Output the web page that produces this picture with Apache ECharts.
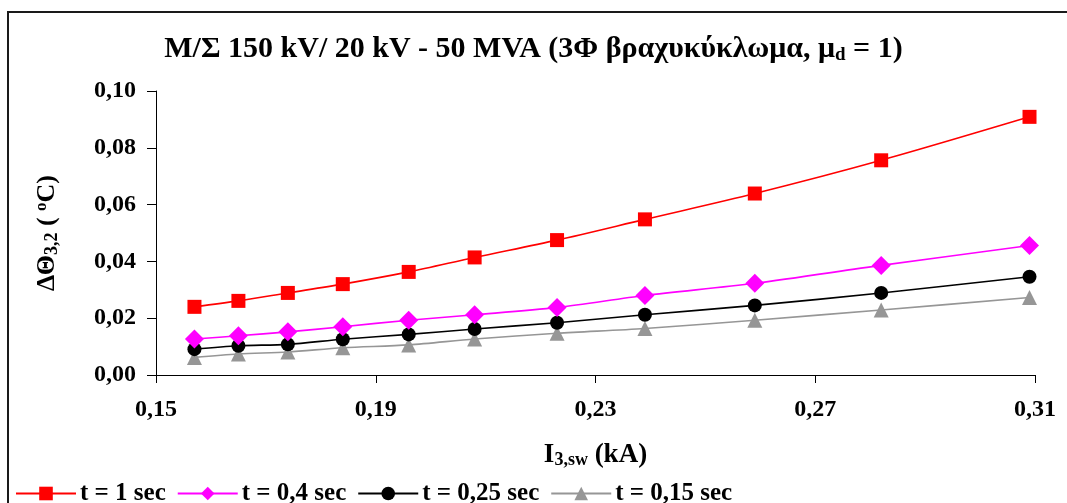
<!DOCTYPE html>
<html>
<head>
<meta charset="utf-8">
<script src="https://cdn.jsdelivr.net/npm/echarts@6/dist/echarts.min.js"></script>
<style>
  html, body { margin: 0; padding: 0; background: #fff; }
  #chart { width: 1067px; height: 503px; }
</style>
</head>
<body>
<div id="chart"></div>
<script>
// Short-circuit current on the 150 kV side (kA)
const currents = [0.157, 0.165, 0.174, 0.184, 0.196, 0.208, 0.223, 0.239, 0.259, 0.282, 0.309];

// Temperature rise ΔΘ3,2 (°C) for each fault duration
const rise1s   = [0.0240, 0.0261, 0.0289, 0.0320, 0.0363, 0.0414, 0.0475, 0.0548, 0.0639, 0.0756, 0.0909];
const rise04s  = [0.0127, 0.0138, 0.0152, 0.0170, 0.0193, 0.0212, 0.0238, 0.0280, 0.0323, 0.0386, 0.0456];
const rise025s = [0.0091, 0.0103, 0.0108, 0.0126, 0.0143, 0.0162, 0.0184, 0.0212, 0.0245, 0.0289, 0.0346];
const rise015s = [0.0062, 0.0074, 0.0081, 0.0096, 0.0106, 0.0127, 0.0147, 0.0164, 0.0193, 0.0229, 0.0273];

const seriesNames = ['t = 1 sec', 't = 0,4 sec', 't = 0,25 sec', 't = 0,15 sec'];

const FONT = '"Liberation Serif", "Times New Roman", serif';

const pairs = ys => currents.map((x, i) => [x, ys[i]]);
const comma = (v, d) => v.toFixed(d).replace('.', ',');

const styles = [
  { data: rise1s,   color: '#ff0000', symbol: 'rect',     size: 14 },
  { data: rise04s,  color: '#ff00ff', symbol: 'diamond',  size: 19 },
  { data: rise025s, color: '#000000', symbol: 'circle',   size: 14 },
  { data: rise015s, color: '#969696', symbol: 'triangle', size: 15 }
];

const chart = echarts.init(document.getElementById('chart'), null, { renderer: 'canvas' });

chart.setOption({
  animation: false,
  backgroundColor: '#ffffff',
  textStyle: { fontFamily: FONT, fontWeight: 'bold', color: '#000' },
  title: {
    text: 'Μ/Σ 150 kV/ 20 kV - 50 MVA (3Φ βραχυκύκλωμα, μ{sub|d} = 1)',
    left: 'center',
    top: 29,
    textStyle: {
      fontFamily: FONT, fontWeight: 'bold', fontSize: 30, color: '#000',
      rich: {
        sub: { fontFamily: FONT, fontWeight: 'bold', fontSize: 19, color: '#000', padding: [12, 0, 0, 0] }
      }
    }
  },
  graphic: [{
    type: 'rect',
    shape: { x: 8, y: 12, width: 1080, height: 520 },
    style: { fill: 'none', stroke: '#1a1a1a', lineWidth: 2 },
    silent: true
  }],
  legend: {
    left: 10,
    top: 476,
    itemWidth: 60,
    itemHeight: 17,
    itemGap: 11,
    data: seriesNames,
    textStyle: { fontFamily: FONT, fontWeight: 'bold', fontSize: 25, color: '#000', padding: [0, 0, 0, -1] }
  },
  grid: { left: 156, right: 32, top: 91, bottom: 128, containLabel: false },
  xAxis: {
    type: 'value',
    min: 0.15,
    max: 0.31,
    interval: 0.04,
    name: 'I{sub|3,sw} (kA)',
    nameLocation: 'middle',
    nameGap: 66,
    nameTextStyle: {
      fontFamily: FONT, fontWeight: 'bold', fontSize: 27, color: '#000',
      rich: {
        sub: { fontFamily: FONT, fontWeight: 'bold', fontSize: 18, color: '#000', padding: [10, 0, 0, 0] }
      }
    },
    axisLine: { show: true, onZero: false, lineStyle: { color: '#000', width: 1 } },
    axisTick: { show: true, inside: false, length: 8, lineStyle: { color: '#000' } },
    axisLabel: {
      fontFamily: FONT, fontWeight: 'bold', fontSize: 24, color: '#000', margin: 23,
      formatter: v => comma(v, 2)
    },
    splitLine: { show: false }
  },
  yAxis: {
    type: 'value',
    min: 0,
    max: 0.1,
    interval: 0.02,
    name: '{b|ΔΘ}{sub|3,2}{b| ( }{sup|o}{b|C)}',
    nameLocation: 'middle',
    nameRotate: 90,
    nameGap: 94,
    nameTextStyle: {
      fontFamily: FONT, fontWeight: 'bold', fontSize: 26, color: '#000',
      rich: {
        b: { fontFamily: FONT, fontWeight: 'bold', fontSize: 26, color: '#000' },
        sub: { fontFamily: FONT, fontWeight: 'bold', fontSize: 18, color: '#000', padding: [10, 0, 0, 0] },
        sup: { fontFamily: FONT, fontWeight: 'bold', fontSize: 17, color: '#000', padding: [0, 0, 12, 0] }
      }
    },
    axisLine: { show: true, lineStyle: { color: '#000', width: 1 } },
    axisTick: { show: true, inside: false, length: 9, lineStyle: { color: '#000' } },
    axisLabel: {
      fontFamily: FONT, fontWeight: 'bold', fontSize: 24, color: '#000', margin: 20,
      formatter: v => comma(v, 2)
    },
    splitLine: { show: false }
  },
  series: styles.map((s, i) => ({
    name: seriesNames[i],
    type: 'line',
    data: pairs(s.data),
    smooth: 0.3,
    symbol: s.symbol,
    symbolSize: s.size,
    showSymbol: true,
    lineStyle: { color: s.color, width: 1.6 },
    itemStyle: { color: s.color, borderWidth: 0 },
    z: 10 - i
  }))
});
</script>
</body>
</html>
